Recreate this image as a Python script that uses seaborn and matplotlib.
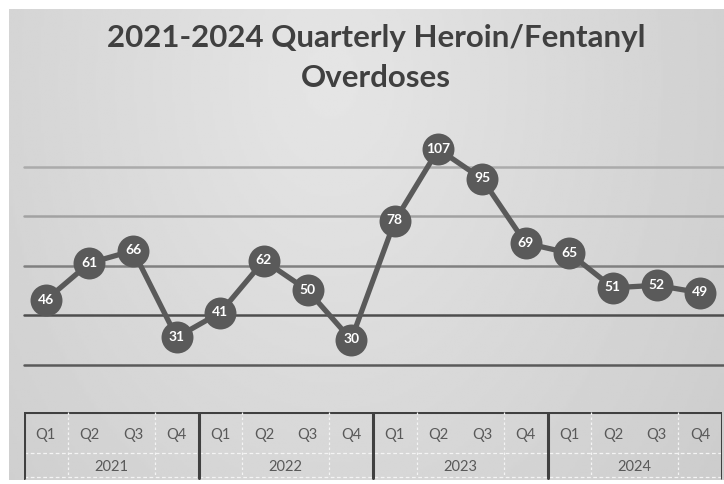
import numpy as np
import pandas as pd
import matplotlib
matplotlib.use("Agg")
import matplotlib.pyplot as plt
import seaborn as sns

years = ["2021", "2022", "2023", "2024"]
quarters = ["Q1", "Q2", "Q3", "Q4"]
values = [46, 61, 66, 31, 41, 62, 50, 30, 78, 107, 95, 69, 65, 51, 52, 49]
grid_levels = [20, 40, 60, 80, 100]
grid_colors = ["#5a5a5a", "#4e4e4e", "#808080", "#a2a2a2", "#ababab"]
title_lines = ["2021-2024 Quarterly Heroin/Fentanyl", "Overdoses"]

sns.set_theme(style="white")
plt.rcParams["font.family"] = ["Lato", "DejaVu Sans"]

W, H = 724, 485
fig = plt.figure(figsize=(W / 100, H / 100), dpi=100)
fig.patch.set_facecolor("white")

# gradient background panel
bg = fig.add_axes([9 / W, 4 / H, 715 / W, 471 / H])
yy, xx = np.mgrid[0:1:200j, 0:1:300j]
r = np.sqrt(((xx - 0.45) / 0.75) ** 2 + ((yy - 0.15) / 1.6) ** 2)
grad = 0.9 - 0.11 * r
bg.imshow(grad, cmap="gray", vmin=0, vmax=1, aspect="auto", extent=[0, 1, 1, 0])
bg.set_axis_off()

for k, line in enumerate(title_lines):
    fig.text(376 / W, 1 - (38 + 40 * k) / H, line, ha="center", va="center",
             fontsize=22.5, fontweight="bold", color="#404040")

# main plot area
ax = fig.add_axes([24 / W, 70 / H, 698 / W, 297 / H])
ax.set_facecolor("none")
df = pd.DataFrame({"idx": np.arange(len(values)), "value": values})
for lvl, c in zip(grid_levels, grid_colors):
    ax.axhline(lvl, color=c, lw=1.8, zorder=1, xmin=0, xmax=1.01, clip_on=False)
sns.lineplot(data=df, x="idx", y="value", ax=ax, color="#5a5a5a", lw=3.8,
             marker="o", markersize=23, markeredgewidth=0, zorder=3)
for i, v in enumerate(values):
    ax.text(i, v + 0.6, str(v), ha="center", va="center", color="white",
            fontsize=10, fontweight="bold", zorder=4)
ax.set_xlim(-0.5, len(values) - 0.5)
ax.set_ylim(0, 120)
ax.set_axis_off()

# category table axis
tx = fig.add_axes([24 / W, 4 / H, 698 / W, 68 / H])
tx.set_facecolor("none")
tx.set_xlim(-0.5, len(values) - 0.5)
tx.set_ylim(68, 0)
tx.set_axis_off()
dark = "#404040"
tx.axhline(0, color=dark, lw=2.2)
tx.axhline(41, color="#f4f4f4", lw=0.9, ls=(0, (3, 2)))
tx.axhline(65, color="#f4f4f4", lw=0.9, ls=(0, (3, 2)))
n = len(quarters)
for k, yr in enumerate(years):
    tx.plot([k * n - 0.5] * 2, [0, 66], color=dark, lw=2.2)
    for b in (0.5, 2.5):
        tx.plot([k * n + b] * 2, [0, 65], color="#f4f4f4", lw=0.9, ls=(0, (2, 2)))
    for j, q in enumerate(quarters):
        tx.text(k * n + j, 22, q, ha="center", va="center", fontsize=10.5, color="#595959")
    tx.text(k * n + (n - 1) / 2, 54, yr, ha="center", va="center", fontsize=10.5, color="#595959")
tx.plot([len(values) - 0.5] * 2, [0, 66], color=dark, lw=2.2)

fig.savefig("out.png", dpi=100)
